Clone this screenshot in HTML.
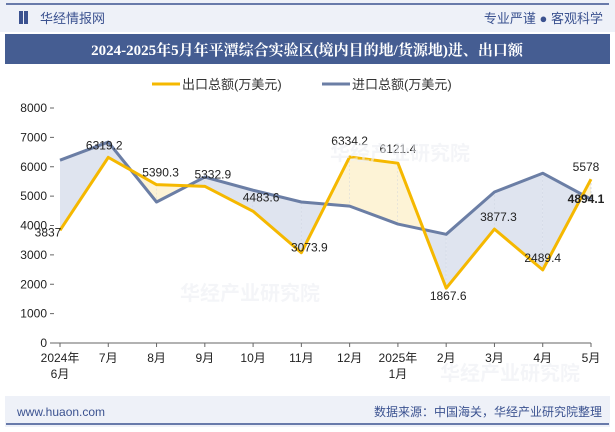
<!DOCTYPE html>
<html><head><meta charset="utf-8"><style>
body{margin:0;width:615px;height:427px;overflow:hidden;background:#fff;font-family:"Liberation Sans","Noto Sans CJK SC",sans-serif;}
</style></head><body>
<svg width="615" height="427" viewBox="0 0 615 427" xmlns="http://www.w3.org/2000/svg" font-family="Liberation Sans, Noto Sans CJK SC, sans-serif">
<rect x="0" y="0" width="615" height="32" fill="#eef1f8"/>
<line x1="6" y1="4" x2="609" y2="4" stroke="#3b5290" stroke-width="1.5"/>
<rect x="19" y="11" width="4" height="13" fill="#3b5290"/><rect x="24" y="11" width="4" height="13" fill="#3b5290"/>
<text x="40" y="23" font-size="13" fill="#3b5290">华经情报网</text>
<text x="603" y="23" font-size="13" fill="#3b5290" text-anchor="end">专业严谨 ● 客观科学</text>
<rect x="5" y="34" width="605" height="30" fill="#455d92"/>
<text x="307" y="55" font-size="15" font-weight="bold" fill="#fff" text-anchor="middle" font-family="Liberation Serif, Noto Serif CJK SC, serif">2024-2025年5月年平潭综合实验区(境内目的地/货源地)进、出口额</text>
<g>
<line x1="152" y1="84" x2="180" y2="84" stroke="#f5b800" stroke-width="3"/>
<text x="182" y="89" font-size="13" fill="#333">出口总额(万美元)</text>
<line x1="322" y1="84" x2="350" y2="84" stroke="#6b7ea5" stroke-width="3"/>
<text x="352" y="89" font-size="13" fill="#333">进口总额(万美元)</text>
</g>
<g id="chart"></g>
<text x="330" y="160" font-size="20" font-weight="bold" fill="#eef0f5" opacity="0.6">华经产业研究院</text>
<text x="180" y="300" font-size="20" font-weight="bold" fill="#eef0f5" opacity="0.6">华经产业研究院</text>
<text x="440" y="380" font-size="20" font-weight="bold" fill="#eef0f5" opacity="0.6">华经产业研究院</text>
<rect x="5" y="396" width="605" height="31" fill="#eef1f8"/>
<line x1="6" y1="424" x2="609" y2="424" stroke="#3b5290" stroke-width="1.5"/>
<text x="17" y="416" font-size="12" fill="#3b5290">www.huaon.com</text>
<text x="602" y="416" font-size="12" fill="#3b5290" text-anchor="end">数据来源：中国海关，华经产业研究院整理</text>
</svg>
<script>
const categories=["2024年|6月","7月","8月","9月","10月","11月","12月","2025年|1月","2月","3月","4月","5月"];
const exportVals=[3837,6319.2,5390.3,5332.9,4483.6,3073.9,6334.2,6121.4,1867.6,3877.3,2489.4,5578];
const importVals=[6224,6840,4800,5650,5200,4800,4660,4050,3700,5140,5780,4894.1];
const yTicks=[0,1000,2000,3000,4000,5000,6000,7000,8000];
const NS="http://www.w3.org/2000/svg";
const g=document.getElementById('chart');
const x0=60,x1=591,yb=343,yt=108,ymax=8000;
const xs=i=>x0+i*(x1-x0)/(categories.length-1);
const ys=v=>yb-v/ymax*(yb-yt);
function mk(t,a,p){const e=document.createElementNS(NS,t);for(const k in a)e.setAttribute(k,a[k]);(p||g).appendChild(e);return e;}
for(let i=0;i<categories.length-1;i++){
 const d0=exportVals[i]-importVals[i],d1=exportVals[i+1]-importVals[i+1];
 const A=[xs(i),ys(exportVals[i])],B=[xs(i+1),ys(exportVals[i+1])],C=[xs(i+1),ys(importVals[i+1])],D=[xs(i),ys(importVals[i])];
 const col=d=>d>0?"#fdf3d6":"#dfe4ef";
 if(d0*d1>=0){
  const p=mk('polygon',{points:[A,B,C,D].map(q=>q.join(',')).join(' '),fill:col(d0+d1)});
  
 }else{
  const t=d0/(d0-d1);const X=[A[0]+t*(B[0]-A[0]),A[1]+t*(B[1]-A[1])];
  const p1=mk('polygon',{points:[A,X,D].map(q=>q.join(',')).join(' '),fill:col(d0)});
  
  const p2=mk('polygon',{points:[X,B,C].map(q=>q.join(',')).join(' '),fill:col(d1)});
  
 }
 mk('line',{x1:xs(i+1),x2:xs(i+1),y1:ys(exportVals[i+1]),y2:ys(importVals[i+1]),stroke:"#c9cfdc","stroke-width":0.8,"stroke-dasharray":"2,2"});
}
const ax=mk('line',{x1:x0-8,x2:x1,y1:yb,y2:yb,stroke:"#666"});

yTicks.forEach(v=>{
 const t=mk('text',{x:x0-13,y:ys(v)+4,"font-size":12,"text-anchor":"end",fill:"#222"});t.textContent=v;
 
 mk('line',{x1:x0-10,x2:x0-6,y1:ys(v),y2:ys(v),stroke:"#666"});
});
categories.forEach((c,i)=>{
 mk('line',{x1:xs(i),x2:xs(i),y1:yb,y2:yb+4,stroke:"#666"});
 c.split('|').forEach((s,j)=>{const t=mk('text',{x:xs(i),y:yb+19+j*16,"font-size":12,"text-anchor":"middle",fill:"#222"});t.textContent=s;
 });
});
function line(vals,col,name){const p=mk('polyline',{points:vals.map((v,i)=>xs(i)+','+ys(v)).join(' '),fill:"none",stroke:col,"stroke-width":3,"stroke-linejoin":"round"});
 }
line(importVals,"#6b7ea5","import-line");
line(exportVals,"#f5b800","export-line");
const off=[[-12,6],[-4,-8],[4,-8],[8,-8],[8,-10],[8,-1],[0,-12],[0,-10],[2,12],[4,-8],[0,-8],[-5,-8]];
exportVals.forEach((v,i)=>{const t=mk('text',{x:xs(i)+off[i][0],y:ys(v)+off[i][1],"font-size":12,"text-anchor":"middle",fill:"#222"});t.textContent=v;
 });
const li=importVals.length-1;
const t2=mk('text',{x:xs(li)-5,y:ys(importVals[li])+4,"font-size":12,"font-weight":"bold","text-anchor":"middle",fill:"#222"});t2.textContent=importVals[li];

</script>
</body></html>
